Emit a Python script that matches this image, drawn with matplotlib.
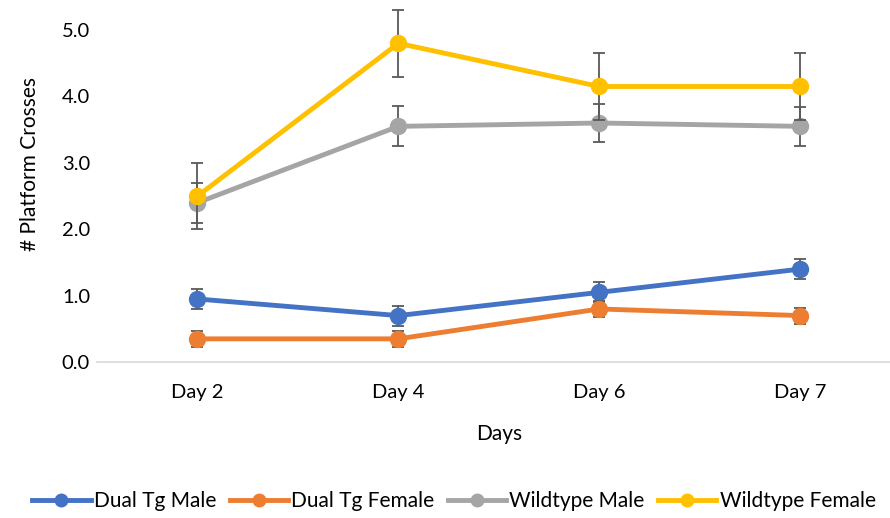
import numpy as np
import matplotlib.pyplot as plt
from matplotlib.lines import Line2D

plt.rcParams['font.family'] = ['Lato', 'DejaVu Sans']

days = ['Day 2', 'Day 4', 'Day 6', 'Day 7']

dual_tg_male = [0.95, 0.70, 1.05, 1.40]
dual_tg_male_err = [0.15, 0.15, 0.15, 0.15]
dual_tg_female = [0.35, 0.35, 0.80, 0.70]
dual_tg_female_err = [0.12, 0.12, 0.12, 0.12]
wildtype_male = [2.40, 3.55, 3.60, 3.55]
wildtype_male_err = [0.30, 0.30, 0.28, 0.29]
wildtype_female = [2.50, 4.80, 4.15, 4.15]
wildtype_female_err = [0.50, 0.50, 0.50, 0.50]

series = [
    ('Dual Tg Male', dual_tg_male, dual_tg_male_err, '#4472C4'),
    ('Dual Tg Female', dual_tg_female, dual_tg_female_err, '#ED7D31'),
    ('Wildtype Male', wildtype_male, wildtype_male_err, '#A5A5A5'),
    ('Wildtype Female', wildtype_female, wildtype_female_err, '#FFC000'),
]

fig = plt.figure(figsize=(8.9, 5.18), dpi=100)
ax = fig.add_axes([0.109, 0.301, 0.903, 0.641])

x = np.arange(len(days))
handles = []
for i, (name, vals, err, color) in enumerate(series):
    line, caps, bars = ax.errorbar(x, vals, yerr=err, color=color, lw=3.5,
                                   marker='o', ms=11.5, ecolor='#595959',
                                   elinewidth=1.3, capsize=4.5, capthick=1.3,
                                   zorder=2 + i)
    # the top error bar at day 4 runs past 5.0
    line.set_clip_on(False)
    for c in caps:
        c.set_clip_on(False)
    for b in bars:
        b.set_clip_on(False)
    handles.append(Line2D([], [], color=color, lw=3.5, marker='o', ms=9,
                          label=name))

ax.set_xlim(-0.5, 3.5)
ax.set_ylim(0, 5)
ax.set_xticks(x)
ax.set_xticklabels(days)
ax.set_yticks(np.arange(0, 5.1, 1.0))
ax.set_yticklabels(['%.1f' % v for v in np.arange(0, 5.1, 1.0)])
ax.tick_params(axis='both', length=0, labelsize=14.5, colors='black')
ax.tick_params(axis='x', pad=16)
ax.tick_params(axis='y', pad=5)

for side in ['top', 'right', 'left']:
    ax.spines[side].set_visible(False)
ax.spines['bottom'].set_color('#D9D9D9')
ax.spines['bottom'].set_linewidth(1.2)

ax.set_xlabel('Days', fontsize=15)
ax.xaxis.set_label_coords(0.5, -0.186)
ax.set_ylabel('# Platform Crosses', fontsize=15)
ax.yaxis.set_label_coords(-0.071, 0.596)

fig.legend(handles=handles, loc='center', bbox_to_anchor=(0.51, 0.033), ncol=4,
           frameon=False, fontsize=15, handlelength=2.8, handletextpad=0.15,
           columnspacing=0.65)

fig.savefig('out.png', dpi=100)
